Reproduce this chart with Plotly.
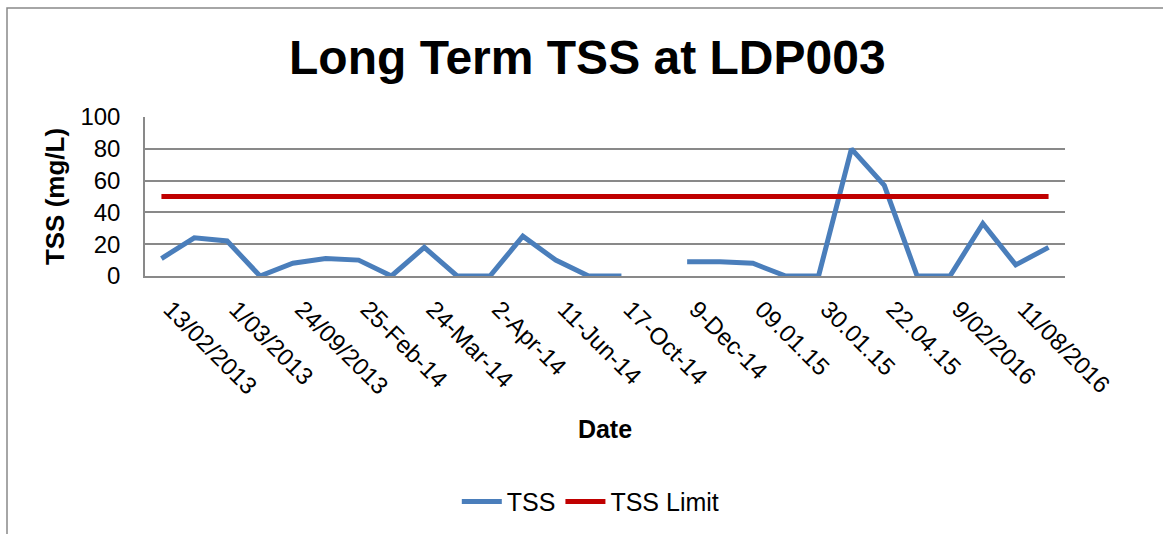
import plotly.graph_objects as go

# Sampling dates (category axis, every other one labelled)
dates = [
    "13/02/2013", "20/02/2013", "1/03/2013", "4/06/2013", "24/09/2013",
    "12/12/2013", "25-Feb-14", "11-Mar-14", "24-Mar-14", "28-Mar-14",
    "2-Apr-14", "7-May-14", "11-Jun-14", "15-Aug-14", "17-Oct-14",
    "18-Nov-14", "9-Dec-14", "19-Dec-14", "09.01.15", "21.01.15",
    "30.01.15", "10.03.15", "22.04.15", "3/11/2015", "9/02/2016",
    "10/05/2016", "11/08/2016", "9/11/2016",
]

# Total suspended solids (mg/L); None = no sample
tss = [11, 24, 22, 0, 8, 11, 10, 0, 18, 0,
       0, 25, 10, 0, 0, None, 9, 9, 8, 0,
       0, 80, 57, 0, 0, 33, 7, 18]

# Licence limit (mg/L)
tss_limit = [50] * len(dates)

tick_labels = dates[::2]

FONT = "Liberation Sans, Arial, sans-serif"

fig = go.Figure()
fig.add_trace(go.Scatter(
    x=dates, y=tss, name="TSS", mode="lines",
    line=dict(color="#4A7EBB", width=5), connectgaps=False,
))
fig.add_trace(go.Scatter(
    x=dates, y=tss_limit, name="TSS Limit", mode="lines",
    line=dict(color="#C00000", width=5),
))

# outer chart frame
fig.add_shape(type="rect", xref="paper", yref="paper",
              x0=-0.15, x1=1.2, y0=-2.0, y1=(276 - 8) / 159,
              line=dict(color="#898989", width=1.5), layer="below")

fig.update_layout(
    width=1163, height=534,
    margin=dict(l=145, r=98, t=117, b=258, autoexpand=False),
    paper_bgcolor="white", plot_bgcolor="white",
    font=dict(family=FONT, color="black", size=24),
    title=dict(text="<b>Long Term TSS at LDP003</b>", x=0.505, xref="container",
               xanchor="center", y=0.893, yanchor="middle",
               font=dict(size=48, family=FONT)),
    showlegend=True,
    legend=dict(orientation="h", x=0.508, xanchor="center", xref="container",
                y=-1.42, yanchor="middle", font=dict(size=25),
                itemwidth=40, bgcolor="rgba(0,0,0,0)"),
)

fig.update_xaxes(
    type="category", categoryorder="array", categoryarray=dates,
    range=[-0.5, len(dates) - 0.5],
    tickmode="array", tickvals=tick_labels, ticktext=tick_labels,
    tickangle=45, tickfont=dict(size=24),
    ticklabelshift=9, ticklabelstandoff=8,
    showgrid=False, showline=True, linecolor="#898989", linewidth=1.5,
    ticks="", automargin=False,
    title=dict(text="<b>Date</b>", font=dict(size=25), standoff=22),
)

fig.update_yaxes(
    range=[0, 100], dtick=20, tick0=0,
    showgrid=True, gridcolor="#898989", gridwidth=1.5,
    showline=True, linecolor="#898989", linewidth=1.5,
    zeroline=False, ticks="", ticklabelstandoff=18,
    tickfont=dict(size=24), automargin=False,
    title=dict(text="<b>TSS (mg/L)</b>", font=dict(size=26), standoff=8),
)

fig.write_html("out.html")
